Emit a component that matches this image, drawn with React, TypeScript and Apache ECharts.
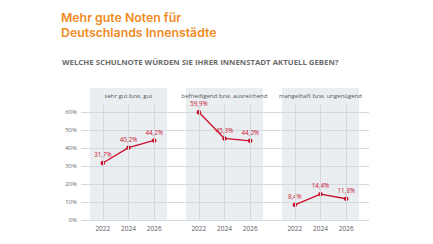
import React, { useEffect, useRef } from "react";
import * as echarts from "echarts";

// Survey: school grade residents give their city centre, per survey year
const years = ["2022", "2024", "2026"];
const panelTitles = [
  "sehr gut bzw. gut",
  "befriedigend bzw. ausreichend",
  "mangelhaft bzw. ungenügend",
];
const goodValues = [31.7, 40.2, 44.2];
const averageValues = [59.9, 45.3, 44.0];
const poorValues = [8.4, 14.4, 11.8];
const yTicks = [0, 10, 20, 30, 40, 50, 60];
const titleLines = ["Mehr gute Noten für", "Deutschlands Innenstädte"];
const question = "WELCHE SCHULNOTE WÜRDEN SIE IHRER INNENSTADT AKTUELL GEBEN?";

const panelValues = [goodValues, averageValues, poorValues];

const RED = "#c8102e";
const GRID_LINE = "#d3d8dc";
const PANEL_BG = "#ebeef1";
const FONT = "'Open Sans', 'Noto Sans', sans-serif";
const TITLE_FONT = "Inter, 'Open Sans', sans-serif";

// layout
const plotBottom = 220;
const valueTop = 112; // y of the highest tick
const lineTop = 105; // vertical guides start here
const bgTop = 88;
const panelLefts = [90, 186, 282];
const panelWidth = 77;
const yMax = yTicks[yTicks.length - 1];
const plotHeight = plotBottom - valueTop;
const panelPlotHeight = plotBottom - lineTop;
const panelYMax = (yMax * panelPlotHeight) / plotHeight;

const fmt = (v: number) => v.toFixed(1).replace(".", ",") + "%";

export default function App() {
  const ref = useRef<HTMLDivElement>(null);

  useEffect(() => {
    if (!ref.current) return;
    const chart = echarts.init(ref.current, undefined, { renderer: "svg" });

    const grids: any[] = [
      { left: 81, top: valueTop, width: 288, height: plotHeight, containLabel: false },
      ...panelLefts.map((l) => ({
        left: l,
        top: bgTop,
        width: panelWidth,
        height: plotBottom - bgTop,
        show: true,
        backgroundColor: PANEL_BG,
        borderWidth: 0,
      })),
      ...panelLefts.map((l) => ({
        left: l,
        top: lineTop,
        width: panelWidth,
        height: panelPlotHeight,
      })),
    ];

    const xAxes: any[] = [
      { type: "value", gridIndex: 0, show: false, min: 0, max: 1 },
      ...panelLefts.map((_, i) => ({
        type: "category",
        gridIndex: 4 + i,
        data: years,
        boundaryGap: true,
        axisLine: { show: false },
        axisTick: { show: false },
        splitLine: { show: false },
        axisLabel: { color: "#5a5a5a", fontSize: 6.5, fontFamily: FONT, margin: 5 },
      })),
    ];

    const yAxes: any[] = [
      {
        type: "value",
        gridIndex: 0,
        min: 0,
        max: yMax,
        interval: 10,
        z: 1,
        axisLine: { show: false },
        axisTick: { show: false },
        axisLabel: {
          formatter: "{value}%",
          color: "#6a6a6a",
          fontSize: 6,
          fontFamily: FONT,
          margin: 4,
        },
        splitLine: { lineStyle: { color: GRID_LINE, width: 1 } },
      },
      ...panelLefts.map((_, i) => ({
        type: "value",
        gridIndex: 4 + i,
        min: 0,
        max: panelYMax,
        show: false,
        splitLine: { show: false },
      })),
    ];

    const series: any[] = panelValues.map((vals, i) => ({
      type: "line",
      xAxisIndex: 1 + i,
      yAxisIndex: 1 + i,
      data: vals,
      z: 3,
      symbol: "circle",
      symbolSize: 4.5,
      lineStyle: { color: RED, width: 1.3 },
      itemStyle: { color: RED },
      label: {
        show: true,
        position: "top",
        distance: 3,
        color: RED,
        fontSize: 6.2,
        fontFamily: FONT,
        formatter: (p: any) => fmt(p.value),
      },
      markLine: {
        silent: true,
        symbol: "none",
        label: { show: false },
        lineStyle: { color: GRID_LINE, width: 1, type: "solid" },
        data: years.map((y) => ({ xAxis: y })),
      },
    }));

    const graphic: any[] = [
      ...titleLines.map((t, i) => ({
        type: "text",
        left: 61,
        top: 10 + i * 15,
        style: {
          text: t,
          fill: "#ef8a1f",
          font: `600 12.3px ${TITLE_FONT}`,
          lineHeight: 14,
        },
      })),
      {
        type: "text",
        left: 62,
        top: 58,
        style: {
          text: question,
          fill: "#6b6b6b",
          font: `bold 7.8px ${FONT}`,
        },
      },
      ...panelTitles.map((t, i) => ({
        type: "text",
        x: panelLefts[i] + panelWidth / 2,
        y: 95.5,
        style: {
          text: t,
          fill: "#555",
          font: `6px ${FONT}`,
          textAlign: "center",
          textVerticalAlign: "middle",
        },
      })),
    ];

    chart.setOption({
      animation: false,
      backgroundColor: "#ffffff",
      grid: grids,
      xAxis: xAxes,
      yAxis: yAxes,
      series,
      graphic,
    });

    return () => chart.dispose();
  }, []);

  return (
    <div
      ref={ref}
      style={{ position: "fixed", left: 0, top: 0, width: 433, height: 244 }}
    />
  );
}
